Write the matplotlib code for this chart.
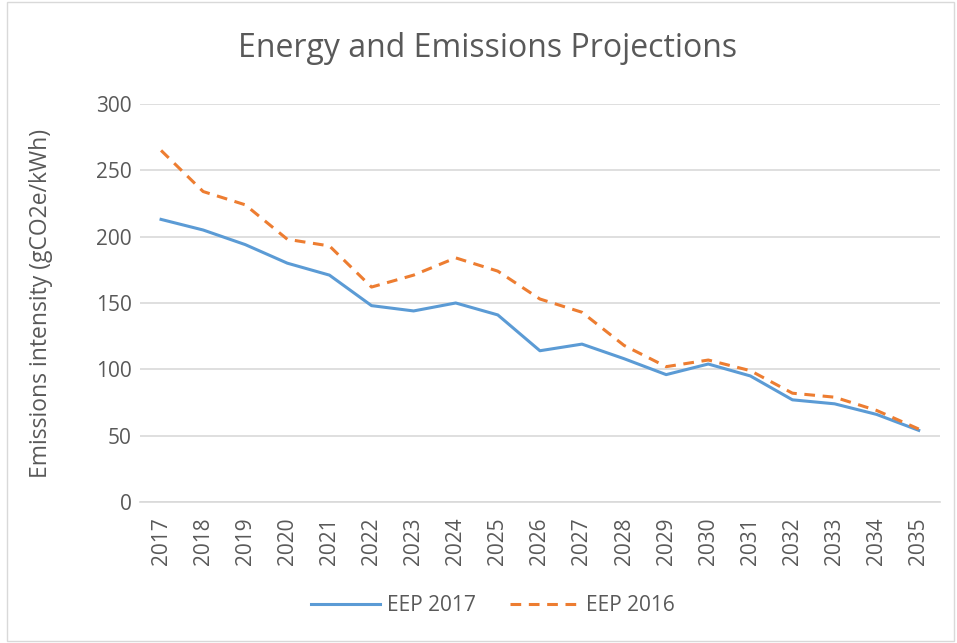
import matplotlib
matplotlib.use("Agg")
import matplotlib.pyplot as plt
from matplotlib.patches import Rectangle

# ----------------------------------------------------------------------
# Data
# ----------------------------------------------------------------------
years = [2017, 2018, 2019, 2020, 2021, 2022, 2023, 2024, 2025, 2026,
         2027, 2028, 2029, 2030, 2031, 2032, 2033, 2034, 2035]
eep_2017 = [213, 205, 194, 180, 171, 148, 144, 150, 141, 114,
            119, 108, 96, 104, 95, 77, 74, 66, 54]
eep_2016 = [265, 234, 224, 198, 193, 162, 171, 184, 174, 153,
            143, 118, 102, 107, 99, 82, 79, 69, 55]
y_ticks = [0, 50, 100, 150, 200, 250, 300]

txt = "#595959"
plt.rcParams["font.family"] = ["Open Sans", "DejaVu Sans"]

fig = plt.figure(figsize=(9.57, 6.43), dpi=100)
ax = fig.add_axes([0.1463, 0.2193, 0.8357, 0.6190])

# outer chart border
fig.patches.append(Rectangle((0.007, 0.003), 0.990, 0.994, transform=fig.transFigure,
                             fill=False, edgecolor="#d9d9d9", lw=1.0))

x = list(range(len(years)))
ax.plot(x, eep_2017, color="#5b9bd5", lw=2.2, label="EEP 2017", zorder=3)
ax.plot(x, eep_2016, color="#ed7d31", lw=2.2, ls=(0, (3.5, 2.5)), label="EEP 2016", zorder=3)

ax.set_xlim(-0.5, len(years) - 0.5)
ax.set_ylim(0, 300)
ax.set_yticks(y_ticks)
ax.set_xticks(x)
ax.set_xticklabels([str(y) for y in years], rotation=90)
ax.tick_params(axis="both", length=0, labelsize=15, colors=txt)
ax.tick_params(axis="y", pad=6)
ax.tick_params(axis="x", pad=11)

ax.grid(axis="y", color="#d9d9d9", lw=1.2)
ax.set_axisbelow(True)
for s in ["top", "right", "left"]:
    ax.spines[s].set_visible(False)
ax.spines["bottom"].set_color("#d9d9d9")
ax.spines["bottom"].set_linewidth(1.2)

ax.set_ylabel("Emissions intensity (gCO2e/kWh)", fontsize=16.5, color=txt, labelpad=31)
fig.text(0.509, 0.925, "Energy and Emissions Projections", ha="center", va="center",
         fontsize=23, color=txt)

leg = fig.legend(loc="center", bbox_to_anchor=(0.515, 0.058), ncol=2, frameon=False,
                 fontsize=15, handlelength=3.3, handletextpad=0.35, columnspacing=1.6,
                 labelcolor=txt)

fig.savefig("out.png", dpi=100)
